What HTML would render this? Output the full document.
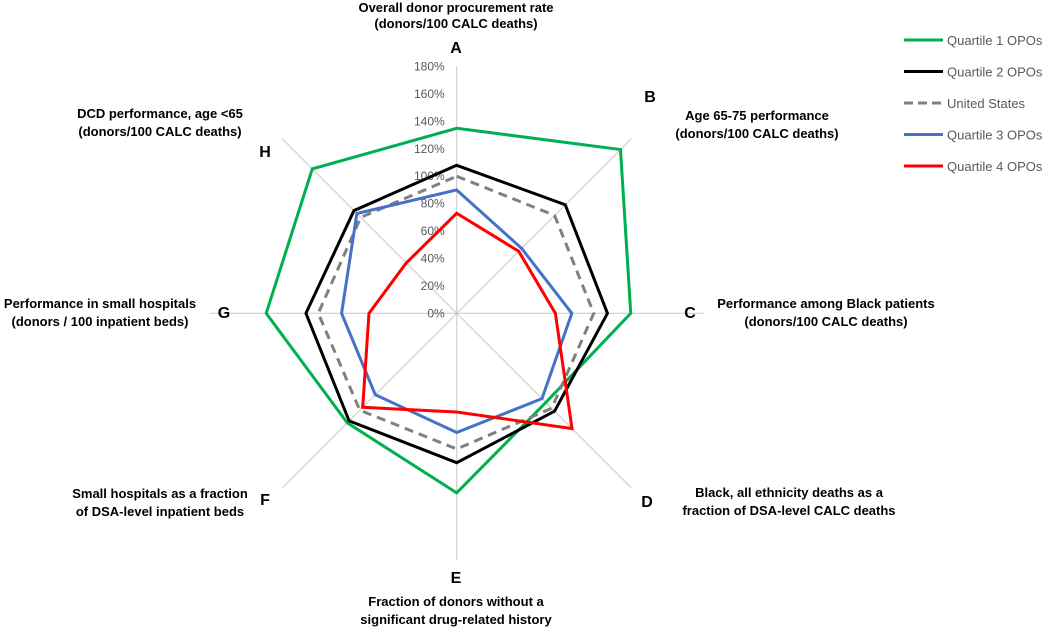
<!DOCTYPE html>
<html><head><meta charset="utf-8"><style>
body{margin:0;background:#fff;width:1050px;height:630px;overflow:hidden}
svg{display:block}
.lab{font-family:"Liberation Sans",sans-serif;font-weight:bold;font-size:13px;fill:#000}
.big{font-family:"Liberation Sans",sans-serif;font-weight:bold;font-size:16px;fill:#000}
.tick{font-family:"Liberation Sans",sans-serif;font-size:12px;fill:#595959}
.leg{font-family:"Liberation Sans",sans-serif;font-size:13px;fill:#595959}
</style></head><body>
<svg id="chart" width="1050" height="630">
<g id="grid"></g>
<g id="series"></g>
<g>
<text class="lab" x="456" y="12" text-anchor="middle">Overall donor procurement rate</text>
<text class="lab" x="456" y="28" text-anchor="middle">(donors/100 CALC deaths)</text>
<text class="big" x="456" y="53" text-anchor="middle">A</text>
<text class="big" x="650" y="102" text-anchor="middle">B</text>
<text class="lab" x="757" y="120" text-anchor="middle">Age 65-75 performance</text>
<text class="lab" x="757" y="138" text-anchor="middle">(donors/100 CALC deaths)</text>
<text class="big" x="690" y="318" text-anchor="middle">C</text>
<text class="lab" x="826" y="308" text-anchor="middle">Performance among Black patients</text>
<text class="lab" x="826" y="326" text-anchor="middle">(donors/100 CALC deaths)</text>
<text class="big" x="647" y="507" text-anchor="middle">D</text>
<text class="lab" x="789" y="497" text-anchor="middle">Black, all ethnicity  deaths as a</text>
<text class="lab" x="789" y="515" text-anchor="middle">fraction of DSA-level CALC deaths</text>
<text class="big" x="456" y="583" text-anchor="middle">E</text>
<text class="lab" x="456" y="606" text-anchor="middle">Fraction of donors without a</text>
<text class="lab" x="456" y="624" text-anchor="middle">significant drug-related history</text>
<text class="big" x="265" y="505" text-anchor="middle">F</text>
<text class="lab" x="160" y="498" text-anchor="middle">Small hospitals as a fraction</text>
<text class="lab" x="160" y="516" text-anchor="middle">of DSA-level inpatient beds</text>
<text class="big" x="224" y="318" text-anchor="middle">G</text>
<text class="lab" x="100" y="308" text-anchor="middle">Performance in small hospitals</text>
<text class="lab" x="100" y="326" text-anchor="middle">(donors / 100 inpatient beds)</text>
<text class="big" x="265" y="157" text-anchor="middle">H</text>
<text class="lab" x="160" y="118" text-anchor="middle">DCD performance, age &lt;65</text>
<text class="lab" x="160" y="136" text-anchor="middle">(donors/100 CALC deaths)</text>
</g>
<g id="legend"></g>
</svg>
<script>
const categories=["A","B","C","D","E","F","G","H"];
const tickLabels=["0%","20%","40%","60%","80%","100%","120%","140%","160%","180%"];
const tickValues=[0,20,40,60,80,100,120,140,160,180];
const seriesNames=["Quartile 1 OPOs","Quartile 2 OPOs","United States","Quartile 3 OPOs","Quartile 4 OPOs"];
const q1=[135,169,127,92,131,113,139,149];
const q2=[108,112,110,101,109,111,110,106];
const us=[100,101,100,98,99,100,101,99];
const q3=[90,67,84,88,87,84,84,103];
const q4=[73,64,72,119,72,97,64,52];
const seriesColors=["#00b050","#000000","#808080","#4472c4","#ff0000"];
const seriesData=[q1,q2,us,q3,q4];
const seriesDash=["","","9,6","",""];
const drawOrder=[0,1,2,3,4];

const cx=456.7,cy=313.3,R=246.7,maxV=180;
const ns="http://www.w3.org/2000/svg";
function rScale(v){return v/maxV*R;}
function pt(i,v){const a=-Math.PI/2+i*2*Math.PI/categories.length;return [cx+rScale(v)*Math.cos(a),cy+rScale(v)*Math.sin(a)];}
function mk(tag,attrs,parent){const e=document.createElementNS(ns,tag);for(const k in attrs)e.setAttribute(k,attrs[k]);parent.appendChild(e);return e;}

const grid=document.getElementById('grid');
categories.forEach((c,i)=>{const p=pt(i,maxV);
const l=mk('line',{x1:cx,y1:cy,x2:p[0],y2:p[1],stroke:'#c8c8c8','stroke-width':1},grid);

});
tickValues.forEach((v,i)=>{const t=mk('text',{x:cx-12,y:cy-rScale(v)+4,'text-anchor':'end',class:'tick'},grid);t.textContent=tickLabels[i];

});

const sg=document.getElementById('series');
drawOrder.forEach(s=>{const pts=seriesData[s].map((v,i)=>pt(i,v).join(',')).join(' ');
const p=mk('polygon',{points:pts,fill:'none',stroke:seriesColors[s],'stroke-width':3,'stroke-linejoin':'miter'},sg);
if(seriesDash[s])p.setAttribute('stroke-dasharray',seriesDash[s]);

});

const lg=document.getElementById('legend');
seriesNames.forEach((n,i)=>{const y=40+i*31.5;
const g=mk('g',{},lg);


const l=mk('line',{x1:904,y1:y,x2:943,y2:y,stroke:seriesColors[i],'stroke-width':3},g);
if(seriesDash[i])l.setAttribute('stroke-dasharray','9,5');
const t=mk('text',{x:947,y:y+5,class:'leg'},g);t.textContent=n;});
</script>
</body></html>
